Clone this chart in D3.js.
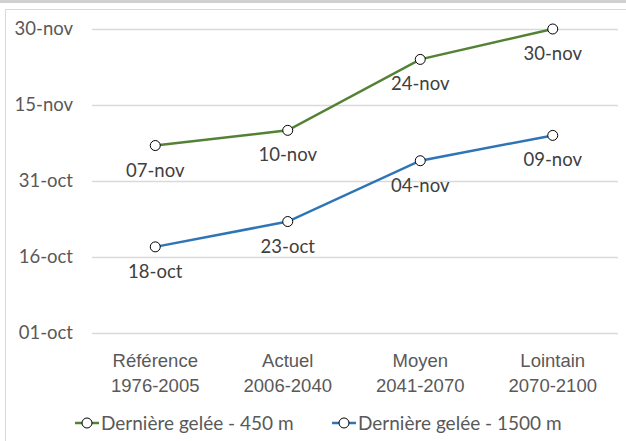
<!DOCTYPE html>
<html><head><meta charset="utf-8">
<script src="https://cdn.jsdelivr.net/npm/d3@7/dist/d3.min.js"></script>
<style>body{margin:0;background:#fff;}svg{display:block;font-family:Lato,"Open Sans",sans-serif;}</style>
</head><body>
<script>
const categories = [["Référence","1976-2005"],["Actuel","2006-2040"],["Moyen","2041-2070"],["Lointain","2070-2100"]];
// days after 01-oct
const tickValues = [0,15,30,45,60];
const tickLabels = ["01-oct","16-oct","31-oct","15-nov","30-nov"];
const series450 = [37,40,54,60];
const labels450 = ["07-nov","10-nov","24-nov","30-nov"];
const series1500 = [17,22,34,39];
const labels1500 = ["18-oct","23-oct","04-nov","09-nov"];
const seriesNames = ["Dernière gelée - 450 m","Dernière gelée - 1500 m"];
const colors = ["#548235","#2E75B6"];

const FS=18.5;
const W=626,H=441;
const svg=d3.select("body").append("svg").attr("width",W).attr("height",H);
svg.append("rect").attr("x",0).attr("y",0).attr("width",W).attr("height",3).attr("fill","#d0d0d0");
svg.append("rect").attr("x",5.5).attr("y",9.5).attr("width",W+10).attr("height",H+10).attr("fill","#fff").attr("stroke","#d9d9d9");

const x=d3.scaleBand().domain(d3.range(4)).range([89,619]);
const y=d3.scaleLinear().domain([0,60]).range([333,29]);
const cx=i=>x(i)+x.bandwidth()/2;

const yAxis=d3.axisLeft(y).tickValues(tickValues).tickFormat((d,i)=>tickLabels[i]).tickSize(0).tickPadding(0);
const gy=svg.append("g").attr("transform","translate(73,0)").call(yAxis);
gy.select(".domain").remove();
gy.selectAll("text").attr("font-size",FS).attr("fill","#595959").attr("font-family","Lato,sans-serif");

svg.append("g").selectAll("line").data(tickValues).join("line")
 .attr("x1",92).attr("x2",618).attr("y1",d=>Math.round(y(d))+0.5).attr("y2",d=>Math.round(y(d))+0.5)
 .attr("stroke","#d9d9d9").attr("stroke-width",1.3);

const xAxis=d3.axisBottom(x).tickSize(0).tickFormat(()=> "");
const gx=svg.append("g").attr("transform","translate(0,333)").call(xAxis);
gx.select(".domain").remove();
gx.selectAll(".tick").each(function(d){
  const t=d3.select(this).append("text").attr("fill","#595959").attr("font-size",FS).attr("text-anchor","middle");
  t.append("tspan").attr("x",0).attr("y",34).text(categories[d][0]);
  t.append("tspan").attr("x",0).attr("y",59).text(categories[d][1]);
});

const line=d3.line().x((d,i)=>cx(i)).y(d=>y(d));
[[series450,labels450],[series1500,labels1500]].forEach(([s,l],k)=>{
  const g=svg.append("g");
  g.append("path").datum(s).attr("d",line).attr("fill","none").attr("stroke",colors[k]).attr("stroke-width",2.5);
  g.selectAll("circle").data(s).join("circle").attr("cx",(d,i)=>cx(i)).attr("cy",d=>y(d)).attr("r",5)
   .attr("fill","#fff").attr("stroke","#000").attr("stroke-width",1);
  g.selectAll("text").data(s).join("text").attr("x",(d,i)=>cx(i)).attr("y",d=>y(d)+31)
   .attr("text-anchor","middle").attr("font-size",FS).attr("fill","#404040").text((d,i)=>l[i]);
});

const legX=[75,332];
seriesNames.forEach((n,k)=>{
  const g=svg.append("g").attr("transform",`translate(${legX[k]},423)`);
  g.append("line").attr("x1",0).attr("x2",24).attr("stroke",colors[k]).attr("stroke-width",2.5);
  g.append("circle").attr("cx",12).attr("r",5).attr("fill","#fff").attr("stroke","#000");
  g.append("text").attr("x",26).attr("y",6.5).attr("font-size",19).attr("fill","#595959").text(n);
});
</script>
</body></html>
